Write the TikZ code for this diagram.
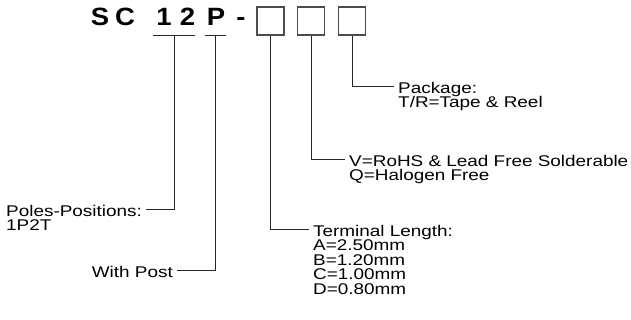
\documentclass[tikz,border=0pt]{standalone}
\usepackage{fontspec}
\setmainfont{Liberation Sans}
\newfontfamily\codefont[FakeStretch=1.1]{Liberation Sans}
\newfontfamily\notefont[FakeStretch=1.22]{Liberation Sans}
\begin{document}
\begin{tikzpicture}[
        x=1pt, y=-1pt,
        letter/.style={font=\codefont\fontsize{25}{25}\selectfont\bfseries, inner sep=0pt, anchor=base},
        slot/.style={draw=black!70, line width=1.2pt, minimum width=27pt, minimum height=28pt, inner sep=0pt},
        note/.style={font=\notefont\fontsize{15.5}{14.5}\selectfont, align=left, inner xsep=4pt, inner ysep=0pt},
        lead/.style={draw=black!85, line width=0.9pt}
    ]
    \useasboundingbox (0,0) rectangle (631,320);

    \node[letter] (s) at (100,26) {S};
    \node[letter] (c) at (125,26) {C};
    \node[letter] (one) at (164,26) {1};
    \node[letter] (two) at (187.5,26) {2};
    \node[letter] (p) at (216,26) {P};
    \node[letter] (dash) at (241,26) {-};
    \node[slot] (boxlen) at (270.5,21) {};
    \node[slot] (boxrohs) at (311,21) {};
    \node[slot] (boxpkg) at (352,21) {};

    \coordinate (u12) at (174,35);
    \coordinate (up) at (215.5,35);
    \draw[lead] ([xshift=-21pt]u12) -- ([xshift=21pt]u12);
    \draw[lead] ([xshift=-10.5pt]up) -- ([xshift=10.5pt]up);

    \node[note, anchor=north west] (pkg) at (394,82) {Package:\\T/R=Tape \& Reel};
    \node[note, anchor=north west] (rohs) at (345,155) {V=RoHS \& Lead Free Solderable\\Q=Halogen Free};
    \node[note, anchor=north west] (term) at (309,225)
        {Terminal Length:\\A=2.50mm\\B=1.20mm\\C=1.00mm\\D=0.80mm};
    \node[note, anchor=north east] (poles) at (146,205) {Poles-Positions:\\1P2T};
    \node[note, anchor=north east] (post) at (177,266) {With Post};

    \draw[lead] (boxpkg.south) |- ([yshift=-4pt]pkg.north west);
    \draw[lead] (boxrohs.south) |- ([yshift=-4pt]rohs.north west);
    \draw[lead] (boxlen.south) |- ([yshift=-4pt]term.north west);
    \draw[lead] (u12) |- ([yshift=-4pt]poles.north east);
    \draw[lead] (up) |- ([yshift=-4pt]post.north east);
\end{tikzpicture}
\end{document}
